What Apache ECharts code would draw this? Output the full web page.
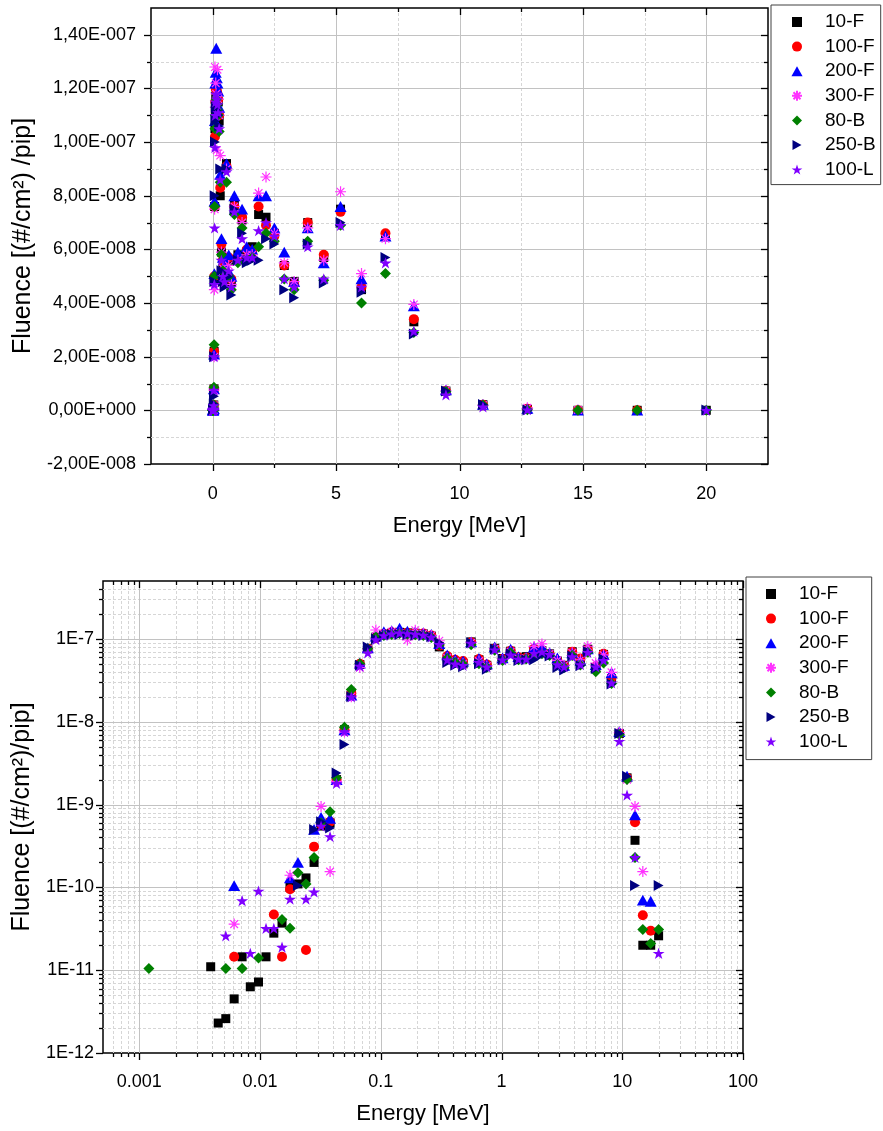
<!DOCTYPE html>
<html>
<head>
<meta charset="utf-8">
<script src="https://cdn.jsdelivr.net/npm/echarts@6/dist/echarts.min.js"></script>
<style>
  html, body { margin: 0; padding: 0; background: #fff; }
  #chart { width: 883px; height: 1131px; }
</style>
</head>
<body>
<div id="chart"></div>
<script>
var n = null;

// energy bins [MeV]
var energy = [0.0012, 0.0039, 0.0045, 0.0052, 0.0061, 0.0071, 0.0083, 0.0097, 0.0112, 0.013,
  0.0152, 0.0177, 0.0206, 0.024, 0.028, 0.032, 0.038, 0.043, 0.05, 0.057,
  0.067, 0.078, 0.091, 0.106, 0.123, 0.143, 0.166, 0.193, 0.225, 0.262,
  0.305, 0.355, 0.413, 0.48, 0.56, 0.65, 0.755, 0.878, 1.02, 1.19,
  1.38, 1.6, 1.86, 2.16, 2.5, 2.9, 3.3, 3.85, 4.5, 5.18,
  6.03, 7.0, 8.15, 9.45, 10.95, 12.75, 14.8, 17.2, 20.0];

// fluence [(#/cm2)/pip] per series, same order as energy
var fl10F = [n, 1.1e-11, 2.3e-12, 2.6e-12, 4.5e-12, 1.45e-11, 6.3e-12, 7.2e-12, 1.45e-11, 2.8e-11,
  3.7e-11, 1.0e-10, 1.1e-10, 1.3e-10, 2.0e-10, 5.5e-10, 6.0e-10, 2.0e-9, 8.0e-9, 2.2e-8,
  4.9e-8, 7.6e-8, 1.05e-7, 1.12e-7, 1.17e-7, 1.2e-7, 1.18e-7, 1.17e-7, 1.15e-7, 1.08e-7,
  8.0e-8, 5.9e-8, 5.3e-8, 5.0e-8, 9.2e-8, 5.6e-8, 4.8e-8, 7.7e-8, 5.8e-8, 7.1e-8,
  5.9e-8, 6.1e-8, 7.3e-8, 7.2e-8, 6.6e-8, 5.4e-8, 4.8e-8, 7.0e-8, 5.7e-8, 7.5e-8,
  4.5e-8, 6.5e-8, 3.3e-8, 7.2e-9, 2.1e-9, 3.7e-10, 2.0e-11, 2.0e-11, 2.6e-11];
var fl100F = [n, n, n, n, 1.45e-11, n, n, n, n, 4.7e-11,
  1.45e-11, 9.5e-11, n, 1.75e-11, 3.1e-10, 5.8e-10, 6.2e-10, 2.0e-9, 8.0e-9, 2.2e-8,
  5.0e-8, 7.6e-8, 1.02e-7, 1.15e-7, 1.2e-7, 1.2e-7, 1.19e-7, 1.18e-7, 1.16e-7, 1.1e-7,
  8.3e-8, 6.2e-8, 5.6e-8, 5.4e-8, 9.1e-8, 5.7e-8, 4.9e-8, 7.6e-8, 5.7e-8, 7.2e-8,
  6.0e-8, 5.9e-8, 7.6e-8, 6.9e-8, 6.5e-8, 5.4e-8, 4.7e-8, 7.0e-8, 5.8e-8, 7.4e-8,
  4.6e-8, 6.6e-8, 3.4e-8, 7.2e-9, 2.1e-9, 6.1e-10, 4.6e-11, 3.0e-11, n];
var fl200F = [n, n, n, n, 1.05e-10, n, n, n, n, n,
  n, 1.3e-10, 2.0e-10, n, 5.0e-10, 7.0e-10, 6.8e-10, 2.0e-9, 8.0e-9, 2.1e-8,
  5.1e-8, 7.8e-8, 1.08e-7, 1.22e-7, 1.26e-7, 1.35e-7, 1.24e-7, 1.22e-7, 1.19e-7, 1.13e-7,
  8.8e-8, 6.4e-8, 5.7e-8, 5.4e-8, 9.2e-8, 5.8e-8, 5.0e-8, 8.0e-8, 5.9e-8, 7.5e-8,
  6.1e-8, 6.0e-8, 8.0e-8, 8.0e-8, 6.8e-8, 5.9e-8, 4.8e-8, 6.8e-8, 5.5e-8, 7.6e-8,
  4.9e-8, 6.5e-8, 3.9e-8, 7.6e-9, 2.2e-9, 7.5e-10, 7.0e-11, 6.8e-11, n];
var fl300F = [n, n, n, n, 3.6e-11, n, n, n, n, n,
  n, 1.4e-10, n, n, n, 9.5e-10, 1.55e-10, 1.9e-9, 7.5e-9, 2.0e-8,
  4.5e-8, 7.5e-8, 1.28e-7, 1.13e-7, 1.22e-7, 1.18e-7, 9.7e-8, 1.27e-7, 1.16e-7, 1.1e-7,
  9.5e-8, 5.9e-8, 5.3e-8, 5.0e-8, 9.0e-8, 5.4e-8, 4.7e-8, 7.6e-8, 5.6e-8, 7.0e-8,
  5.8e-8, 5.8e-8, 8.1e-8, 8.7e-8, 6.6e-8, 5.5e-8, 4.8e-8, 6.8e-8, 5.6e-8, 8.15e-8,
  5.1e-8, 6.4e-8, 3.95e-8, 7.4e-9, 2.0e-9, 9.5e-10, 1.55e-10, n, n];
var fl80B = [1.05e-11, n, n, 1.05e-11, n, 1.05e-11, n, 1.4e-11, n, n,
  4.1e-11, 3.2e-11, 1.5e-10, 1.1e-10, 2.3e-10, 6.0e-10, 8.2e-10, 2.1e-9, 8.6e-9, 2.45e-8,
  5.0e-8, 7.6e-8, 1.05e-7, 1.1e-7, 1.13e-7, 1.16e-7, 1.14e-7, 1.12e-7, 1.1e-7, 1.04e-7,
  8.5e-8, 5.8e-8, 5.2e-8, 4.9e-8, 8.5e-8, 5.0e-8, 4.5e-8, 7.3e-8, 5.5e-8, 6.8e-8,
  5.6e-8, 5.7e-8, 6.1e-8, 6.6e-8, 6.3e-8, 4.9e-8, 4.5e-8, 6.3e-8, 4.85e-8, 6.9e-8,
  4.0e-8, 5.1e-8, 2.9e-8, 7.0e-9, 2.0e-9, 2.3e-10, 3.1e-11, 2.1e-11, 3.1e-11];
var fl250B = [n, n, n, n, n, n, n, n, n, n,
  n, n, 1.05e-10, n, 5.0e-10, 6.2e-10, 5.2e-10, 2.4e-9, 5.3e-9, 2.0e-8,
  4.8e-8, 8.0e-8, 1.0e-7, 1.08e-7, 1.13e-7, 1.13e-7, 1.12e-7, 1.11e-7, 1.1e-7, 1.06e-7,
  9.0e-8, 5.2e-8, 4.8e-8, 4.6e-8, 9.0e-8, 5.0e-8, 4.3e-8, 7.5e-8, 5.6e-8, 6.6e-8,
  5.5e-8, 5.6e-8, 5.6e-8, 6.4e-8, 6.2e-8, 4.5e-8, 4.2e-8, 6.2e-8, 4.75e-8, 7.0e-8,
  4.4e-8, 5.7e-8, 2.85e-8, 7.2e-9, 2.2e-9, 1.05e-10, n, n, 1.05e-10];
var fl100L = [n, n, n, 2.6e-11, n, 6.9e-11, 1.6e-11, 9.0e-11, 3.2e-11, 3.2e-11,
  1.9e-11, 7.2e-11, n, 7.2e-11, 8.8e-11, 5.5e-10, 4.1e-10, 1.8e-9, 7.6e-9, 2.0e-8,
  4.7e-8, 6.8e-8, 9.8e-8, 1.1e-7, 1.15e-7, 1.18e-7, 1.16e-7, 1.14e-7, 1.11e-7, 1.05e-7,
  8.6e-8, 5.6e-8, 5.0e-8, 4.8e-8, 8.9e-8, 5.2e-8, 4.6e-8, 7.4e-8, 5.6e-8, 6.4e-8,
  5.7e-8, 5.7e-8, 6.7e-8, 7.0e-8, 6.5e-8, 4.9e-8, 4.6e-8, 6.1e-8, 4.9e-8, 6.9e-8,
  4.6e-8, 5.5e-8, 2.95e-8, 5.8e-9, 1.3e-9, 2.3e-10, n, n, 1.6e-11];

var seriesNames = ['10-F', '100-F', '200-F', '300-F', '80-B', '250-B', '100-L'];
var seriesValues = [fl10F, fl100F, fl200F, fl300F, fl80B, fl250B, fl100L];

// tick values
var linXMajor = [0, 5, 10, 15, 20];
var linXMinor = [2.5, 7.5, 12.5, 17.5];
var linYMajor = [-2e-8, 0, 2e-8, 4e-8, 6e-8, 8e-8, 1e-7, 1.2e-7, 1.4e-7];
var linYMinor = [-1e-8, 1e-8, 3e-8, 5e-8, 7e-8, 9e-8, 1.1e-7, 1.3e-7];
var logXMajor = [0.001, 0.01, 0.1, 1, 10, 100];
var logYMajor = [1e-12, 1e-11, 1e-10, 1e-9, 1e-8, 1e-7];

function logMinors(lo, hi) {
  var out = [];
  for (var d = -14; d <= 3; d++) {
    for (var m = 2; m <= 9; m++) {
      var v = parseFloat((m * Math.pow(10, d)).toPrecision(6));
      if (v > lo * 1.0001 && v < hi * 0.9999) out.push(v);
    }
  }
  return out;
}
var logXMinor = logMinors(5e-4, 100);
var logYMinor = logMinors(1e-12, 5e-7);

var FONT = 'Liberation Sans, Arial, sans-serif';

var styles = [
  { symbol: 'path://M0,0 L100,0 L100,100 L0,100 Z', size: 9, color: '#000000' },
  { symbol: 'path://M0,50 A50,50 0 1,0 100,50 A50,50 0 1,0 0,50 Z', size: 10, color: '#ff0000' },
  { symbol: 'path://M50,0 L100,90 L0,90 Z', size: 12, color: '#0000ff' },
  { symbol: 'path://M0,50 L100,50 M50,0 L50,100 M15,15 L85,85 M15,85 L85,15', size: 11, color: '#ff33ff', stroke: true },
  { symbol: 'path://M50,0 L100,50 L50,100 L0,50 Z', size: 11, color: '#008000' },
  { symbol: 'path://M0,0 L90,50 L0,100 Z', size: 11, color: '#000080' },
  { symbol: 'path://M50,0 L61.8,35.1 L98.9,35.1 L68.9,56.7 L80.3,91.9 L50,70 L19.7,91.9 L31.1,56.7 L1.1,35.1 L38.2,35.1 Z', size: 12, color: '#7f00ff' }
];

function originSci(v) {
  if (Math.abs(v) < 1e-15) return '0,00E+000';
  var e = Math.floor(Math.log10(Math.abs(v)) + 1e-9);
  var m = v / Math.pow(10, e);
  var es = (e < 0 ? '-' : '+') + ('000' + Math.abs(e)).slice(-3);
  return m.toFixed(2).replace('.', ',') + 'E' + es;
}

function frameSeries(gi, anchor, xMajor, xMinor, yMajor, yMinor) {
  return {
    type: 'custom', xAxisIndex: gi, yAxisIndex: gi, silent: true, z: 1,
    data: [anchor],
    renderItem: function (params, api) {
      var cs = params.coordSys;
      var L = cs.x, R = cs.x + cs.width, T = cs.y, B = cs.y + cs.height;
      var kids = [];
      function ln(x1, y1, x2, y2, st) {
        kids.push({ type: 'line', shape: { x1: x1, y1: y1, x2: x2, y2: y2 }, style: st });
      }
      var gMaj = { stroke: '#c2c2c2', lineWidth: 1 };
      var gMin = { stroke: '#d6d6d6', lineWidth: 1, lineDash: [3, 2] };
      var tk = { stroke: '#000', lineWidth: 1.3 };
      function px(v) { return Math.round(api.coord([v, anchor[1]])[0]) + 0.5; }
      function py(v) { return Math.round(api.coord([anchor[0], v])[1]) + 0.5; }
      xMinor.forEach(function (v) {
        var x = px(v);
        if (x > L + 1 && x < R - 1) ln(x, T, x, B, gMin);
        ln(x, B, x, B + 4, tk); ln(x, T, x, T + 4, tk);
      });
      yMinor.forEach(function (v) {
        var y = py(v);
        if (y > T + 1 && y < B - 1) ln(L, y, R, y, gMin);
        ln(L - 4, y, L, y, tk); ln(R - 4, y, R, y, tk);
      });
      xMajor.forEach(function (v) {
        var x = px(v);
        if (x > L + 1 && x < R - 1) ln(x, T, x, B, gMaj);
        ln(x, B, x, B + 7, tk); ln(x, T, x, T + 7, tk);
      });
      yMajor.forEach(function (v) {
        var y = py(v);
        if (y > T + 1 && y < B - 1) ln(L, y, R, y, gMaj);
        ln(L - 7, y, L, y, tk); ln(R - 7, y, R, y, tk);
      });
      return { type: 'group', children: kids };
    }
  };
}

var series = [
  frameSeries(0, [0, 0], linXMajor, linXMinor, linYMajor, linYMinor),
  frameSeries(1, [1, 1e-9], logXMajor, logXMinor, logYMajor, logYMinor)
];

[0, 1].forEach(function (gi) {
  seriesNames.forEach(function (name, k) {
    var st = styles[k];
    var vals = seriesValues[k];
    var pts = [];
    energy.forEach(function (e, i) {
      if (vals[i] != null) pts.push([e, vals[i]]);
    });
    series.push({
      type: 'scatter', name: name, xAxisIndex: gi, yAxisIndex: gi, z: 3,
      symbol: st.symbol, symbolSize: st.size, symbolKeepAspect: true,
      itemStyle: st.stroke
        ? { color: 'rgba(0,0,0,0)', borderColor: st.color, borderWidth: 1.2, opacity: 1 }
        : { color: st.color, opacity: 1 },
      emphasis: { disabled: true },
      data: pts
    });
  });
});

function legendAt(left, top, padding) {
  return {
    orient: 'vertical', left: left, top: top, padding: padding,
    data: seriesNames, itemWidth: 46, itemHeight: 10, itemGap: 4.6,
    borderColor: '#404040', borderWidth: 1, selectedMode: false,
    textStyle: { fontFamily: FONT, fontSize: 19, color: '#000', lineHeight: 20 }
  };
}

var axisText = { fontFamily: FONT, fontSize: 18, color: '#000' };
var xNameText = { fontFamily: FONT, fontSize: 22, color: '#000' };
var yNameText = { fontFamily: FONT, fontSize: 25, color: '#000' };

var option = {
  animation: false,
  backgroundColor: '#fff',
  grid: [
    { left: 151, top: 8, width: 617, height: 456, show: true, borderColor: '#000', borderWidth: 1.5, backgroundColor: 'transparent' },
    { left: 103, top: 581, width: 640, height: 472, show: true, borderColor: '#000', borderWidth: 1.5, backgroundColor: 'transparent' }
  ],
  legend: [
    legendAt(771, 5, [7, 5, 5, 20]),
    legendAt(746, 577, [7, 22, 8, 19])
  ],
  xAxis: [
    {
      gridIndex: 0, type: 'value', min: -2.5, max: 22.5, interval: 2.5,
      axisLine: { show: false }, axisTick: { show: false }, splitLine: { show: false },
      axisLabel: Object.assign({ margin: 21, formatter: function (v) {
        var r = v / 5;
        return Math.abs(r - Math.round(r)) < 1e-6 ? String(Math.round(v)) : '';
      } }, axisText),
      name: 'Energy [MeV]', nameLocation: 'middle', nameGap: 51, nameTextStyle: xNameText
    },
    {
      gridIndex: 1, type: 'log', logBase: 10, min: 5e-4, max: 100,
      axisLine: { show: false }, axisTick: { show: false }, splitLine: { show: false },
      axisLabel: Object.assign({ margin: 20, formatter: function (v) {
        var e = Math.log10(v);
        if (Math.abs(e - Math.round(e)) > 1e-6) return '';
        e = Math.round(e);
        return e < 0 ? Math.pow(10, e).toFixed(-e) : String(Math.pow(10, e));
      } }, axisText),
      name: 'Energy [MeV]', nameLocation: 'middle', nameGap: 50, nameTextStyle: xNameText
    }
  ],
  yAxis: [
    {
      gridIndex: 0, type: 'value', min: -2e-8, max: 1.5e-7, interval: 2e-8,
      axisLine: { show: false }, axisTick: { show: false }, splitLine: { show: false },
      axisLabel: Object.assign({ margin: 15, formatter: function (v) {
        var r = v / 2e-8;
        return Math.abs(r - Math.round(r)) < 1e-6 ? originSci(Math.round(r) * 2e-8) : '';
      } }, axisText),
      name: 'Fluence [(#/cm\u00b2) /pip]', nameLocation: 'middle', nameRotate: 90, nameGap: 110, nameTextStyle: yNameText
    },
    {
      gridIndex: 1, type: 'log', logBase: 10, min: 1e-12, max: 5e-7,
      axisLine: { show: false }, axisTick: { show: false }, splitLine: { show: false },
      axisLabel: Object.assign({ margin: 9, formatter: function (v) {
        var e = Math.log10(v);
        if (Math.abs(e - Math.round(e)) > 1e-6) return '';
        return '1E' + Math.round(e);
      } }, axisText),
      name: 'Fluence [(#/cm\u00b2)/pip]', nameLocation: 'middle', nameRotate: 90, nameGap: 68, nameTextStyle: yNameText
    }
  ],
  series: series
};

var chart = echarts.init(document.getElementById('chart'));
chart.setOption(option);
</script>
</body>
</html>
